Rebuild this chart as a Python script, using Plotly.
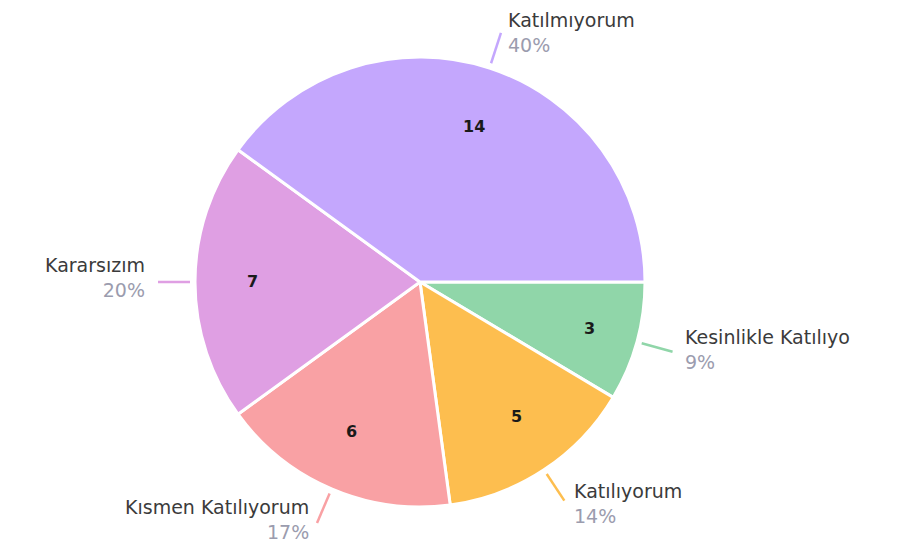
import numpy as np
import plotly.graph_objects as go

# Daten (im Uhrzeigersinn ab 3 Uhr)
kategorien = ["Kesinlikle Katılıyo", "Katılıyorum", "Kısmen Katılıyorum", "Kararsızım", "Katılmıyorum"]
werte = [3, 5, 6, 7, 14]
farben = ["#90D6A9", "#FDBE4F", "#F9A1A4", "#DF9FE3", "#C4A7FD"]

W, H = 908, 544
# Seite hat 8px body-margin -> Koordinaten im Plot-Div
cx, cy, r = 412, 274, 225

fig = go.Figure(go.Pie(
    labels=kategorien,
    values=werte,
    sort=False,
    direction="clockwise",
    rotation=90,
    marker=dict(colors=farben, line=dict(color="white", width=3)),
    textinfo="none",
    hoverinfo="label+value+percent",
    domain=dict(x=[(cx - r) / W, (cx + r) / W], y=[1 - (cy + r) / H, 1 - (cy - r) / H]),
    showlegend=False,
))

# Winkel der Segmentmitten aus den Werten
summe = sum(werte)
anteile = np.array(werte) / summe
kum = np.cumsum(anteile) - anteile / 2
winkel = -kum * 2 * np.pi  # mathematisch, 0 = 3 Uhr


def px(x, y):
    return x / W, 1 - y / H


for name, wert, anteil, farbe, a in zip(kategorien, werte, anteile, farben, winkel):
    dx, dy = np.cos(a), -np.sin(a)
    rechts = dx > 0

    # Wert im Segment
    tx, ty = px(cx + 0.78 * r * dx, cy + 0.78 * r * dy)
    fig.add_annotation(x=tx, y=ty, xref="paper", yref="paper", text=f"<b>{wert}</b>",
                       showarrow=False, font=dict(family="DejaVu Sans", size=16, color="#1a1a1a"))

    # Linie nach außen
    sx, sy = cx + (r + 5) * dx, cy + (r + 5) * dy
    ex, ey = cx + (r + 37) * dx, cy + (r + 37) * dy
    x0, y0 = px(sx, sy)
    x1, y1 = px(ex, ey)
    fig.add_shape(type="line", xref="paper", yref="paper", x0=x0, y0=y0, x1=x1, y1=y1,
                  line=dict(color=farbe, width=2.5))

    # Beschriftung (im sichtbaren Bereich halten)
    ly_px = min(max(ey + 8 * dy - 4, 25), 511)
    lx, ly = px(ex + 8 * dx + (3 if rechts else -3), ly_px)
    fig.add_annotation(
        x=lx, y=ly, xref="paper", yref="paper",
        text=f"{name}<br><span style='color:#9b9cae'>{round(anteil * 100)}%</span>",
        showarrow=False,
        xanchor="left" if rechts else "right",
        yanchor="middle",
        align="left" if rechts else "right",
        font=dict(family="DejaVu Sans", size=19, color="#3b3b3b"),
    )

fig.update_layout(
    width=W, height=H,
    margin=dict(l=0, r=0, t=0, b=0),
    paper_bgcolor="white",
    plot_bgcolor="white",
)

fig.write_html("out.html")
